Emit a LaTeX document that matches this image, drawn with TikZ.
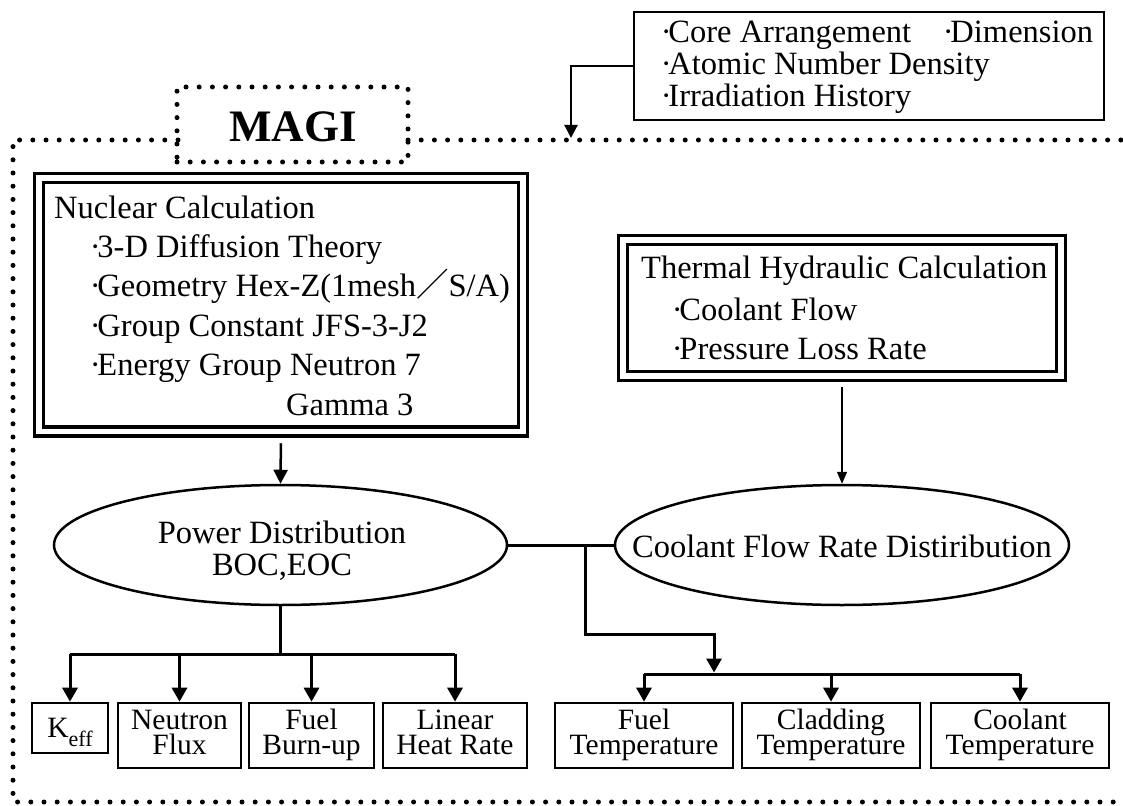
\documentclass[tikz,border=0pt]{standalone}
\usepackage{fontspec}
\setmainfont{Liberation Serif}
\newfontfamily\cjk{Noto Sans CJK JP}
\usetikzlibrary{arrows.meta,shapes.geometric}
\lineskiplimit=-100pt\relax
\tikzset{
  dotline/.style={line width=5pt, dash pattern=on 0pt off 13.2pt, line cap=round},
  btxt/.style={inner sep=0pt, anchor=base west, font=\fontsize{32.5}{39}\selectfont},
  ctxt/.style={inner sep=0pt, anchor=base, font=\fontsize{32.5}{39}\selectfont},
  dbox/.style={draw, double, line width=3.4pt, double distance=5.6pt, inner sep=0pt},
  sbox/.style={draw, line width=2.6pt, inner sep=0pt, align=center,
    font=\fontsize{29.5}{25}\selectfont},
  kbox/.style={draw, line width=2.6pt, inner sep=0pt, font=\fontsize{29.5}{25}\selectfont},
  ell/.style={draw, ellipse, line width=2.5pt, inner sep=0pt},
  conn/.style={line width=3pt},
  arr/.style={-{Triangle[width=15pt,length=14pt]}},
}
\newcommand\bul{\kern-0.04em·\kern-0.1em}
\newcommand\twol[2]{\rule{0pt}{20pt}#1\\#2\rule[-7pt]{0pt}{7pt}}
\newcommand\keffsub{\raisebox{-9pt}{\fontsize{22}{22}\selectfont eff}}
\begin{document}
\begin{tikzpicture}[x=1pt,y=-1pt]
\useasboundingbox (0,0) rectangle (1123,805);
\begin{scope}
\clip (0,0) rectangle (1123,805);
% outer dotted frame
\draw[dotline] (178,140) -- (13,140) -- (13,802) -- (1135,802);
\draw[dotline] (408,140) -- (1135,140);
\end{scope}
% MAGI
\node[dotline, draw, minimum width=231pt, minimum height=75pt, inner sep=0pt] (magi) at (292.5,124.5) {};
\node[inner sep=0pt, anchor=base, font=\fontsize{45}{45}\selectfont\bfseries] (magit) at (293,142) {MAGI};

% input box
\node[draw, line width=2.5pt, minimum width=470pt, minimum height=108pt, inner sep=0pt] (inp) at (869,66) {};
\node[btxt] (i1) at (662,43) {\bul Core Arrangement};
\node[btxt] (i2) at (944,43) {\bul Dimension};
\node[btxt] (i3) at (662,75) {\bul Atomic Number Density};
\node[btxt] (i4) at (662,107) {\bul Irradiation History};
\coordinate (inarr) at (571,138);
\draw[line width=2.2pt, -{Triangle[width=13pt,length=13pt]}] (inp.west) -| (inarr);

% nuclear calculation
\node[dbox, minimum width=484pt, minimum height=253.5pt] (nuc) at (281,304.8) {};
\node[btxt] (n1) at (54,218) {Nuclear Calculation};
\node[btxt] (n2) at (91,257.4) {\bul 3-D Diffusion Theory};
\node[btxt] (n3) at (91,296.8) {\bul Geometry Hex-Z(1mesh{\cjk ／}S/A)};
\node[btxt] (n4) at (91,336.2) {\bul Group Constant JFS-3-J2};
\node[btxt] (n5) at (91,375.6) {\bul Energy Group Neutron 7};
\node[btxt] (n6) at (286,415) {Gamma 3};

% thermal hydraulic
\node[dbox, minimum width=438pt, minimum height=136pt] (thy) at (842,308) {};
\node[btxt] (t1) at (641,278) {Thermal Hydraulic Calculation};
\node[btxt] (t2) at (673,320) {\bul Coolant Flow};
\node[btxt] (t3) at (673,359) {\bul Pressure Loss Rate};

% ellipses
\node[ell, minimum width=453pt, minimum height=120pt] (pow) at (280.5,545) {};
\node[ctxt] (p1) at (282,543) {Power Distribution};
\node[ctxt] (p2) at (282,575) {BOC,EOC};
\node[ell, minimum width=454pt, minimum height=120pt] (cool) at (842,545) {};
\node[ctxt] (c1) at (842,557) {Coolant Flow Rate Distiribution};

\draw[line width=2.5pt, shorten <=10pt, -{Triangle[width=14pt,length=14pt]}] (nuc.south) -- (pow.north);
\draw[line width=1.3pt, shorten <=9pt, -{Triangle[width=10pt,length=12pt]}] (thy.south) -- (cool.north);

% result boxes
\node[kbox, minimum width=76pt, minimum height=50pt, text height=19pt, text depth=0pt] (keff) at (70,728) {K\keffsub};
\node[sbox, minimum width=123pt, minimum height=65pt] (nflux) at (179.5,735.5) {\twol{Neutron}{Flux}};
\node[sbox, minimum width=125pt, minimum height=65pt] (fburn) at (311.5,735.5) {\twol{Fuel}{Burn-up}};
\node[sbox, minimum width=144pt, minimum height=65pt] (lhr) at (455,735.5) {\twol{Linear}{Heat Rate}};
\node[sbox, minimum width=178pt, minimum height=65pt] (ftemp) at (644,735.5) {\twol{Fuel}{Temperature}};
\node[sbox, minimum width=178pt, minimum height=65pt] (clad) at (831,735.5) {\twol{Cladding}{Temperature}};
\node[sbox, minimum width=178pt, minimum height=65pt] (coolt) at (1020,735.5) {\twol{Coolant}{Temperature}};

% connectors
\draw[conn] (pow.east) -- (cool.west);
\coordinate (lb) at (280.5,654);
\draw[conn] (pow.south) -- (lb);
\draw[conn] (keff.north |- lb) -- (lhr.north |- lb);
\foreach \n in {keff,nflux,fburn,lhr} \draw[conn,arr] (\n.north |- lb) -- (\n.north);

\coordinate (jr) at (585,545);
\coordinate (rb) at (714,674);
\draw[conn, arr, shorten >=1.5pt] (jr) |- (714,634) -- (rb);
\draw[conn] (ftemp.north |- rb) -- (coolt.north |- rb);
\foreach \n in {ftemp,clad,coolt} \draw[conn,arr] (\n.north |- rb) -- (\n.north);
\end{tikzpicture}
\end{document}
